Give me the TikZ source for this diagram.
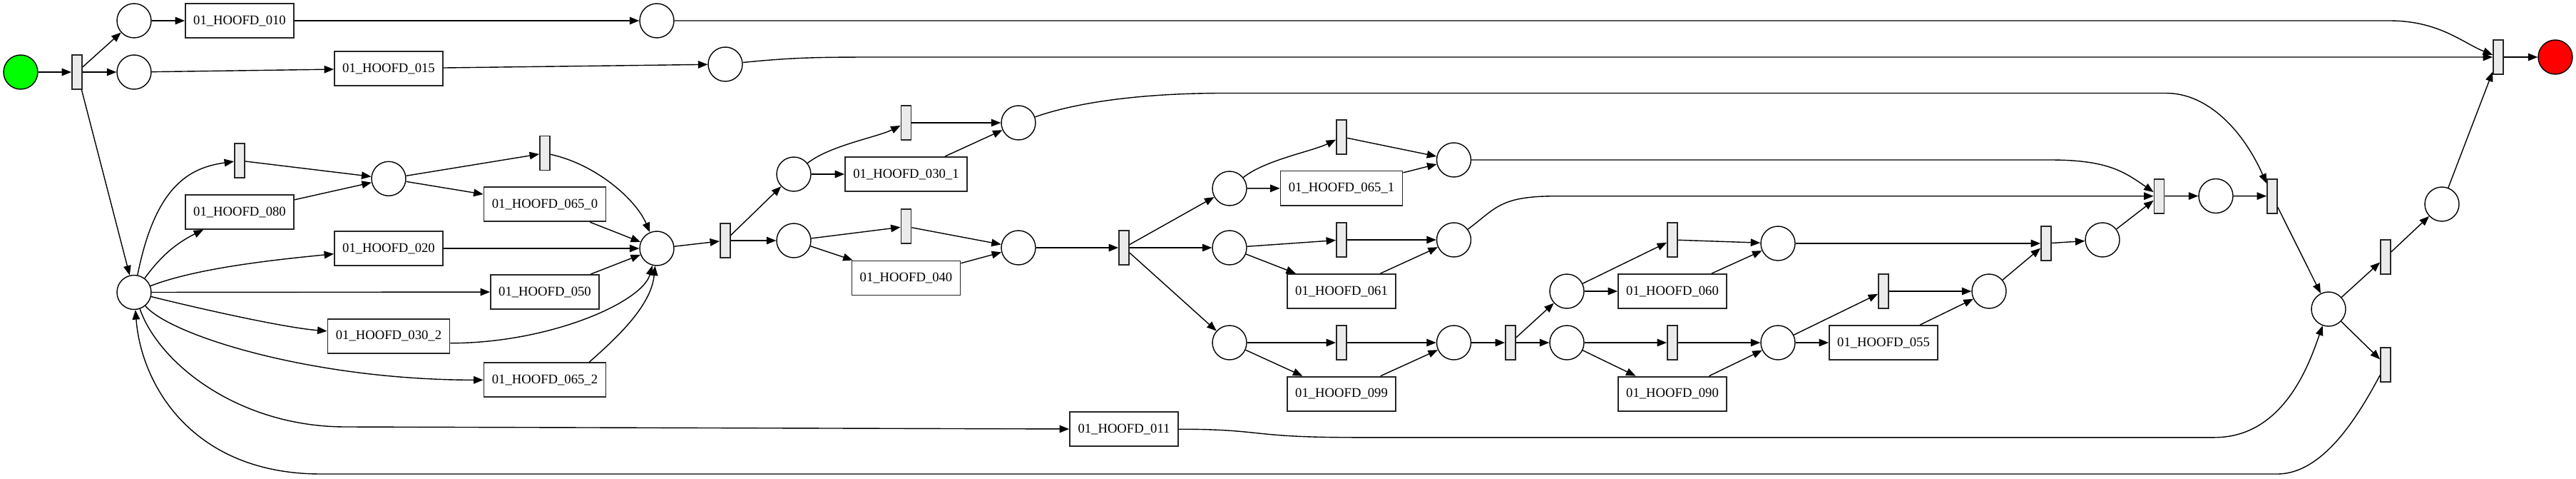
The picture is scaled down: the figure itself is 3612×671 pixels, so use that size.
\documentclass[tikz,border=0pt]{standalone}
\usepackage{fontspec}
\setmainfont{Liberation Serif}
\usetikzlibrary{arrows.meta, positioning}
\definecolor{startgreen}{HTML}{00FF00}
\definecolor{endred}{HTML}{FF0000}
\definecolor{transgray}{HTML}{EBEBEB}

\begin{document}
\begin{tikzpicture}[
    x=1pt, y=-1pt,
    every node/.style={font=\fontsize{18.67}{22}\selectfont},
    place/.style={circle, draw, line width=1.4pt, minimum size=48pt, inner sep=0pt},
    trans/.style={rectangle, draw=black!85, line width=1.8pt, fill=transgray, minimum width=14pt, minimum height=48pt, inner sep=0pt},
    task/.style={rectangle, draw=black!85, line width=1.8pt, minimum width=152pt, minimum height=48pt, inner sep=0pt},
    wtask/.style={task, minimum width=171pt},
    arrowstyle/.style={-{Triangle[length=13.5pt, width=10.5pt]}, line width=1.4pt}
  ]
  \useasboundingbox (0,0) rectangle (3612,671);

  % places
  \node[place, fill=startgreen] (start) at (29,101) {};
  \node[place] (p1) at (188,29) {};
  \node[place] (p2) at (188,101) {};
  \node[place] (p3) at (188,409.5) {};
  \node[place] (p4) at (921,29) {};
  \node[place] (p5) at (1017,90) {};
  \node[place] (p6) at (545,250.3) {};
  \node[place] (p7) at (921,348) {};
  \node[place] (p8) at (1113,244) {};
  \node[place] (p9) at (1113,337) {};
  \node[place] (p10) at (1428,172) {};
  \node[place] (p11) at (1428,347) {};
  \node[place] (p12) at (1724,264) {};
  \node[place] (p13) at (1724,347) {};
  \node[place] (p14) at (1724,480) {};
  \node[place] (p15) at (2038.5,224) {};
  \node[place] (p16) at (2038.5,336) {};
  \node[place] (p17) at (2038.5,480) {};
  \node[place] (p18) at (2197,408) {};
  \node[place] (p19) at (2197,480) {};
  \node[place] (p20) at (2493,341) {};
  \node[place] (p21) at (2493,480) {};
  \node[place] (p22) at (2789,408) {};
  \node[place] (p23) at (2948,336) {};
  \node[place] (p24) at (3107,274.5) {};
  \node[place] (p25) at (3265,433) {};
  \node[place] (p26) at (3424,286) {};
  \node[place, fill=endred] (end) at (3583,80) {};

  % transitions
  \node[trans] (t1) at (108,101) {};
  \node[trans] (t2) at (336,225) {};
  \node[trans] (t3) at (764,214.6) {};
  \node[trans] (t4) at (1017,337) {};
  \node[trans] (t5) at (1270.5,172) {};
  \node[trans] (t6) at (1270.5,317.3) {};
  \node[trans] (t7) at (1576,347) {};
  \node[trans] (t8) at (1881,191.7) {};
  \node[trans] (t9) at (1881,336) {};
  \node[trans] (t10) at (1881,480) {};
  \node[trans] (t11) at (2118,480) {};
  \node[trans] (t12) at (2345,336) {};
  \node[trans] (t13) at (2345,480) {};
  \node[trans] (t14) at (2641,408) {};
  \node[trans] (t15) at (2869,341) {};
  \node[trans] (t16) at (3027.5,274.7) {};
  \node[trans] (t17) at (3186,274.7) {};
  \node[trans] (t18) at (3345,360.3) {};
  \node[trans] (t19) at (3345,511) {};
  \node[trans] (t20) at (3503,80) {};

  % tasks
  \node[task] (h010) at (336,29) {01\_HOOFD\_010};
  \node[task] (h015) at (545,96) {01\_HOOFD\_015};
  \node[task] (h080) at (336,297) {01\_HOOFD\_080};
  \node[task] (h020) at (545,348) {01\_HOOFD\_020};
  \node[wtask] (h030b) at (545,470.7) {01\_HOOFD\_030\_2};
  \node[wtask] (h065a) at (764,286.3) {01\_HOOFD\_065\_0};
  \node[task] (h050) at (764,409) {01\_HOOFD\_050};
  \node[wtask] (h065c) at (764,532.3) {01\_HOOFD\_065\_2};
  \node[wtask] (h030a) at (1270.5,244) {01\_HOOFD\_030\_1};
  \node[task] (h040) at (1270.5,389.4) {01\_HOOFD\_040};
  \node[task] (h011) at (1576,601.2) {01\_HOOFD\_011};
  \node[wtask] (h065b) at (1881,263.6) {01\_HOOFD\_065\_1};
  \node[task] (h061) at (1881,408) {01\_HOOFD\_061};
  \node[task] (h099) at (1881,551.6) {01\_HOOFD\_099};
  \node[task] (h060) at (2345,408) {01\_HOOFD\_060};
  \node[task] (h090) at (2345,551.6) {01\_HOOFD\_090};
  \node[task] (h055) at (2641,480) {01\_HOOFD\_055};

  % start and top rows
  \draw[arrowstyle] (start) -- (t1);
  \draw[arrowstyle] (t1) -- (p1);
  \draw[arrowstyle] (t1) -- (p2);
  \draw[arrowstyle] (t1) -- (p3);
  \draw[arrowstyle] (p1) -- (h010);
  \draw[arrowstyle] (h010) -- (p4);
  \draw[arrowstyle] (p2) -- (h015);
  \draw[arrowstyle] (h015) -- (p5);
  \draw[arrowstyle] (p4) -- (3350,29) .. controls +(70,0) and +(-50,-20) .. (t20);
  \draw[arrowstyle] (p5) .. controls +(100,-10) and +(-100,0) .. (1250,80) -- (t20);
  \draw[arrowstyle] (p26) -- (t20);
  \draw[arrowstyle] (t20) -- (end);

  % loop place
  \draw[arrowstyle] (p3) .. controls +(30,-150) and +(-70,10) .. (t2);
  \draw[arrowstyle] (p3) .. controls +(30,-40) and +(-98,48) .. (h080);
  \draw[arrowstyle] (p3) .. controls +(90,-35) and +(-150,15) .. (h020);
  \draw[arrowstyle] (p3) -- (h050);
  \draw[arrowstyle] (p3) .. controls +(80,20) and +(-150,-12) .. (h030b);
  \draw[arrowstyle] (p3) .. controls +(50,60) and +(-240,0) .. (h065c.west);
  \draw[arrowstyle] (p3) .. controls +(35,100) and +(-150,0) .. (485,598) -- (h011);
  \draw[arrowstyle] (t2) -- (p6);
  \draw[arrowstyle] (h080) -- (p6);
  \draw[arrowstyle] (p6) -- (t3);
  \draw[arrowstyle] (p6) -- (h065a);
  \draw[arrowstyle] (t3) .. controls +(70,15) and +(-30,-70) .. (p7);
  \draw[arrowstyle] (h065a) -- (p7);
  \draw[arrowstyle] (h020) -- (p7);
  \draw[arrowstyle] (h050) -- (p7);
  \draw[arrowstyle] ([yshift=-10pt]h030b.east) .. controls +(140,0) and +(-20,75) .. (p7);
  \draw[arrowstyle] ([xshift=62pt]h065c.north) .. controls +(40,-35) and +(-8,80) .. (p7);

  % middle part
  \draw[arrowstyle] (p7) -- (t4);
  \draw[arrowstyle] (t4) -- (p8);
  \draw[arrowstyle] (t4) -- (p9);
  \draw[arrowstyle] (p8) .. controls +(50,-40) and +(-40,20) .. (t5);
  \draw[arrowstyle] (p8) -- (h030a);
  \draw[arrowstyle] (t5) -- (p10);
  \draw[arrowstyle] (h030a) -- (p10);
  \draw[arrowstyle] (p9) -- (t6);
  \draw[arrowstyle] (p9) -- (h040);
  \draw[arrowstyle] (t6) -- (p11);
  \draw[arrowstyle] (h040) -- (p11);
  \draw[arrowstyle] (p11) -- (t7);
  \draw[arrowstyle] (t7) -- (p12);
  \draw[arrowstyle] (t7) -- (p13);
  \draw[arrowstyle] (t7) -- (p14);
  \draw[arrowstyle] (p10) .. controls +(100,-35) and +(-80,0) .. (1716,130.5) -- (3037,130.5) .. controls +(60,0) and +(-40,-90) .. (t17);

  % three branches
  \draw[arrowstyle] (p12) .. controls +(50,-40) and +(-40,20) .. (t8);
  \draw[arrowstyle] (p12) -- (h065b);
  \draw[arrowstyle] (t8) -- (p15);
  \draw[arrowstyle] (h065b) -- (p15);
  \draw[arrowstyle] (p15) -- (2874,224) .. controls +(80,0) and +(-50,-35) .. (t16);
  \draw[arrowstyle] (p13) -- (t9);
  \draw[arrowstyle] (p13) -- (h061);
  \draw[arrowstyle] (t9) -- (p16);
  \draw[arrowstyle] (h061) -- (p16);
  \draw[arrowstyle] (p16) .. controls +(60,-45) and +(-80,0) .. (2183,274.7) -- (t16);
  \draw[arrowstyle] (p14) -- (t10);
  \draw[arrowstyle] (p14) -- (h099);
  \draw[arrowstyle] (t10) -- (p17);
  \draw[arrowstyle] (h099) -- (p17);
  \draw[arrowstyle] (p17) -- (t11);
  \draw[arrowstyle] (t11) -- (p18);
  \draw[arrowstyle] (t11) -- (p19);
  \draw[arrowstyle] (p18) -- (t12);
  \draw[arrowstyle] (p18) -- (h060);
  \draw[arrowstyle] (t12) -- (p20);
  \draw[arrowstyle] (h060) -- (p20);
  \draw[arrowstyle] (p19) -- (t13);
  \draw[arrowstyle] (p19) -- (h090);
  \draw[arrowstyle] (t13) -- (p21);
  \draw[arrowstyle] (h090) -- (p21);
  \draw[arrowstyle] (p21) -- (t14);
  \draw[arrowstyle] (p21) -- (h055);
  \draw[arrowstyle] (t14) -- (p22);
  \draw[arrowstyle] (h055) -- (p22);

  % right part
  \draw[arrowstyle] (p20) -- (t15);
  \draw[arrowstyle] (p22) -- (t15);
  \draw[arrowstyle] (t15) -- (p23);
  \draw[arrowstyle] (p23) -- (t16);
  \draw[arrowstyle] (t16) -- (p24);
  \draw[arrowstyle] (p24) -- (t17);
  \draw[arrowstyle] (t17) -- (p25);
  \draw[arrowstyle] (p25) -- (t18);
  \draw[arrowstyle] (p25) -- (t19);
  \draw[arrowstyle] (t18) -- (p26);
  \draw[arrowstyle] (h011.east) .. controls +(120,0) and +(-150,0) .. (1900,612.8) -- (3105,612.8) .. controls +(100,0) and +(-25,70) .. (p25);
  \draw[arrowstyle] (t19) .. controls +(-35,65) and +(67,0) .. (3193,664) -- (450,664) .. controls +(-180,0) and +(10,130) .. (p3);
\end{tikzpicture}
\end{document}
